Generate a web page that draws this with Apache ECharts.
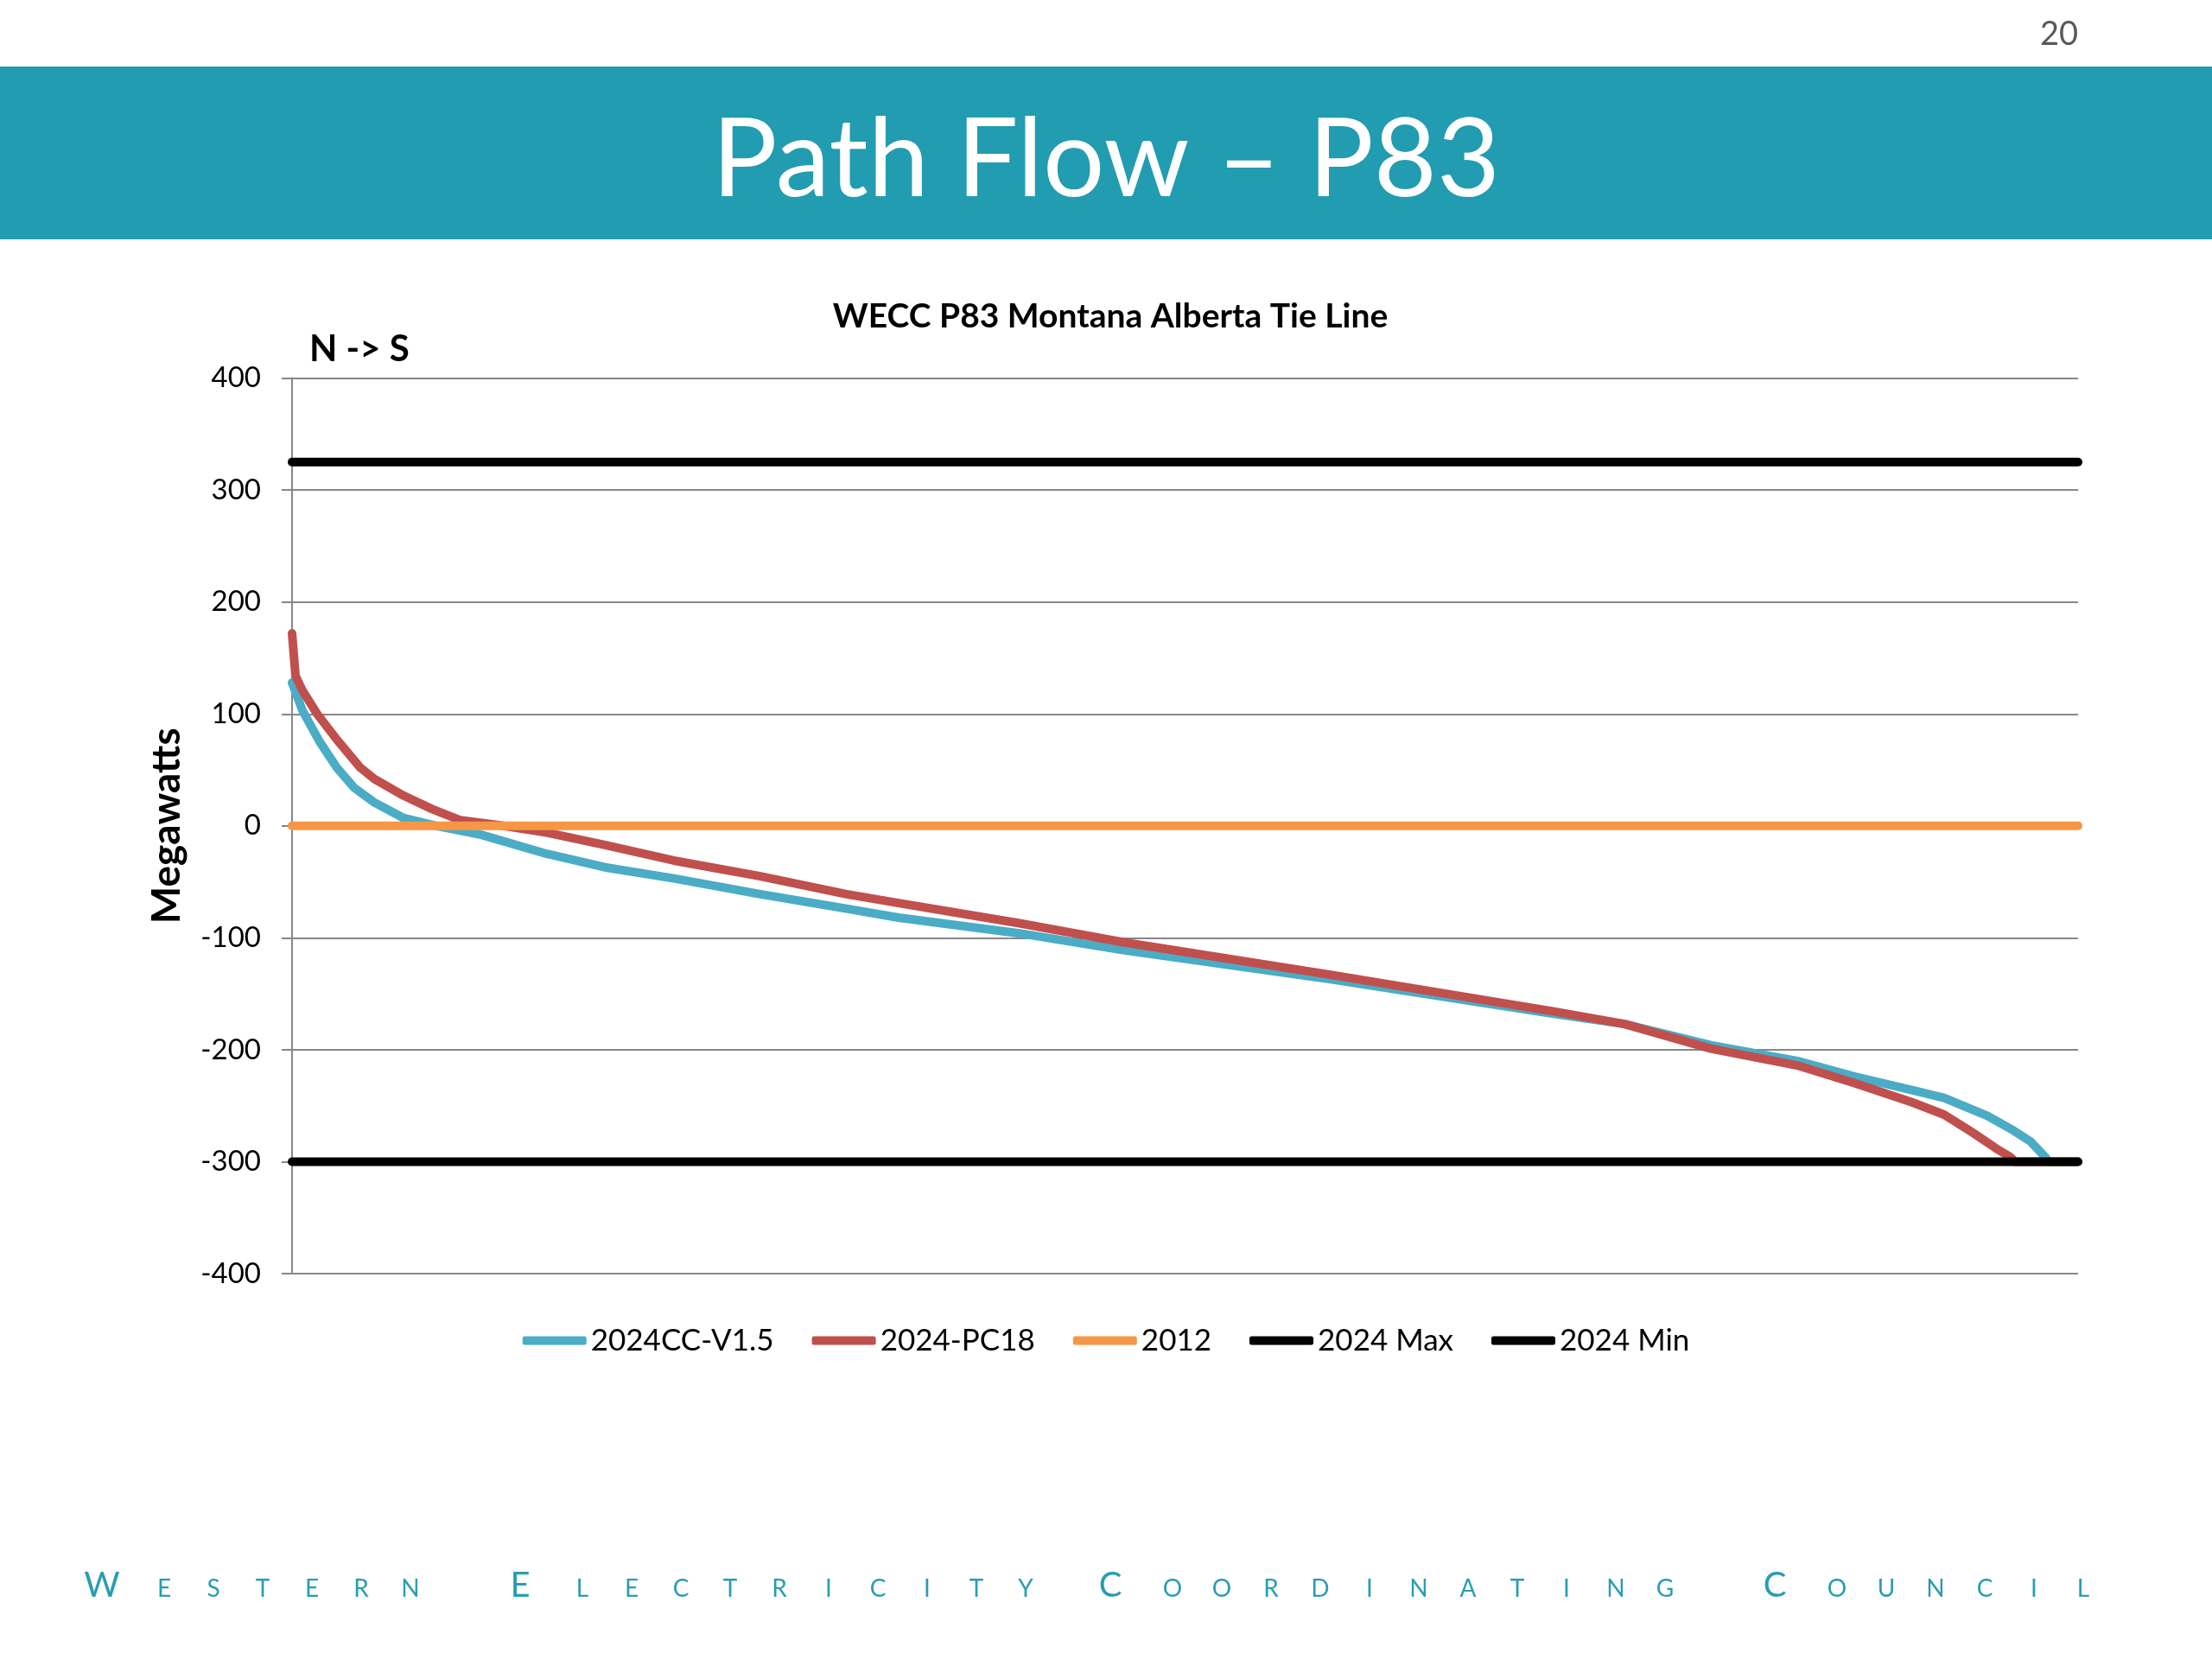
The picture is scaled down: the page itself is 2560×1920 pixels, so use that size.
<!DOCTYPE html>
<html>
<head>
<meta charset="utf-8">
<script src="https://cdn.jsdelivr.net/npm/echarts@6/dist/echarts.min.js"></script>
<style>
html,body{margin:0;padding:0;background:#fff;}
#chart{width:2560px;height:1920px;}
</style>
</head>
<body>
<div id="chart"></div>
<script>
// ---- Data ----
const seriesNames = ['2024CC-V1.5', '2024-PC18', '2012', '2024 Max', '2024 Min'];
const yTicks = [-400, -300, -200, -100, 0, 100, 200, 300, 400];

// hours of the year (sorted duration curve) and flow in MW
const hoursCC = [0, 51, 136, 220, 305, 403, 547, 708, 928, 1250, 1534, 1873, 2297, 2720, 2975, 3568, 4077, 5094, 6196, 6535, 6959, 7383, 7667, 7946, 8103, 8315, 8442, 8527, 8599, 8616, 8760];
const flowCC  = [128, 103, 75, 52, 34, 21, 7, 0, -8, -25, -37, -47, -61, -74, -82, -96, -111, -137, -168, -177, -196, -210, -224, -236, -243, -259, -272, -282, -296, -300, -300];

const hoursPC = [0, 17, 51, 123, 220, 335, 403, 547, 687, 826, 1038, 1250, 1534, 1873, 2297, 2720, 2975, 3568, 4077, 5094, 6196, 6535, 6959, 7383, 7667, 7946, 8103, 8243, 8357, 8429, 8450, 8760];
const flowPC  = [172, 134, 121, 100, 77, 52, 42, 27, 15, 5, 0, -6, -17, -31, -45, -61, -69, -87, -104, -133, -166, -177, -199, -214, -230, -247, -258, -274, -288, -296, -300, -300];

const hours2012 = [0, 8760];
const flow2012  = [0, 0];
const hoursMax = [0, 8760];
const flowMax  = [325, 325];
const hoursMin = [0, 8760];
const flowMin  = [-300, -300];

const colors = ['#4bacc6', '#c0504d', '#f79646', '#000000', '#000000'];

function pairs(xs, ys) { return xs.map((x, i) => [x, ys[i]]); }

// footer words (small caps)
const footerWords = ['WESTERN', 'ELECTRICITY', 'COORDINATING', 'COUNCIL'];
const footerStarts = [118, 602, 1285, 2054];

const chart = echarts.init(document.getElementById('chart'));

const FONT = 'Lato, "Open Sans", sans-serif';
const graphics = [
  { type: 'rect', shape: { x: 0, y: 77, width: 2560, height: 200 }, style: { fill: '#219cb0' }, z: 0 },
  { type: 'text', x: 1280, y: 186, style: { text: 'Path Flow \u2013 P83', fill: '#ffffff', fontSize: 126, fontFamily: FONT, align: 'center', verticalAlign: 'middle' }, z: 1 },
  { type: 'text', x: 2405, y: 40, style: { text: '20', fill: '#595959', fontSize: 38, fontFamily: FONT, align: 'right', verticalAlign: 'middle' }, z: 1 },
  { type: 'text', x: 358, y: 404, style: { text: 'N -> S', fill: '#000000', fontSize: 42, fontWeight: 'bold', fontFamily: FONT, align: 'left', verticalAlign: 'middle' }, z: 1 }
];

// footer letters
const baseLine = 1848;
footerWords.forEach((w, wi) => {
  let x = footerStarts[wi];
  for (let i = 0; i < w.length; i++) {
    const big = i === 0;
    const size = big ? 40 : 28;
    graphics.push({
      type: 'text', x: x, y: baseLine - 0.32 * size,
      style: { text: w[i], fill: '#2a9db2', fontSize: size, fontFamily: FONT, align: 'center', verticalAlign: 'middle' },
      z: 1
    });
    x += big ? 72 : 57;
  }
});

const lineSeries = [
  { x: hoursCC, y: flowCC, w: 10 },
  { x: hoursPC, y: flowPC, w: 10 },
  { x: hours2012, y: flow2012, w: 10 },
  { x: hoursMax, y: flowMax, w: 10 },
  { x: hoursMin, y: flowMin, w: 10 }
];

const option = {
  animation: false,
  backgroundColor: '#ffffff',
  title: {
    text: 'WECC P83 Montana Alberta Tie Line',
    left: 1280, top: 342, textAlign: 'center',
    textStyle: { fontSize: 39, fontWeight: 'bold', fontFamily: FONT, color: '#000000' }
  },
  grid: { left: 338, right: 155, top: 437.6, bottom: 446 },
  legend: {
    data: seriesNames,
    left: 'center', top: 1529,
    icon: 'roundRect', itemWidth: 74, itemHeight: 10, itemGap: 44,
    textStyle: { fontSize: 35, fontFamily: FONT, color: '#000000' }
  },
  xAxis: {
    type: 'value', min: 0, max: 8760, show: false,
    splitLine: { show: false }
  },
  yAxis: {
    type: 'value', min: yTicks[0], max: yTicks[yTicks.length - 1], interval: 100,
    name: 'Megawatts', nameLocation: 'middle', nameGap: 122, nameRotate: 90,
    nameTextStyle: { fontSize: 46, fontWeight: 'bold', fontFamily: FONT, color: '#000000' },
    axisLine: { show: true, lineStyle: { color: '#878787', width: 2 } },
    axisTick: { show: true, length: 12, lineStyle: { color: '#878787', width: 2 } },
    axisLabel: { fontSize: 33, fontFamily: FONT, color: '#000000', margin: 36 },
    splitLine: { show: true, lineStyle: { color: '#878787', width: 2 } }
  },
  graphic: graphics,
  series: lineSeries.map((s, i) => ({
    name: seriesNames[i],
    type: 'line',
    data: pairs(s.x, s.y),
    smooth: false,
    symbol: 'none',
    showSymbol: false,
    lineStyle: { color: colors[i], width: s.w, cap: 'round', join: 'round' },
    itemStyle: { color: colors[i] },
    z: 2 + i
  }))
};
chart.setOption(option);
</script>
</body>
</html>
